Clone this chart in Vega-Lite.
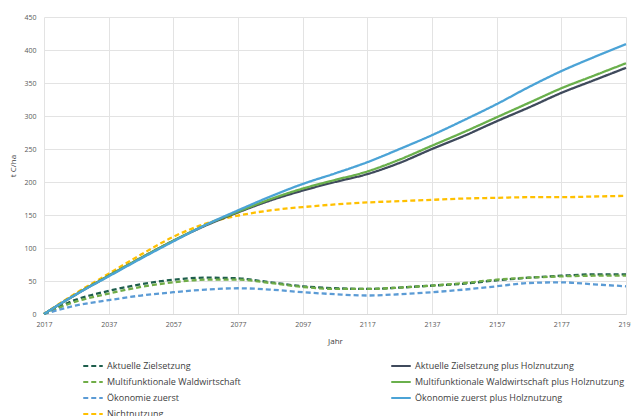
{
  "$schema": "https://vega.github.io/schema/vega-lite/v6.json",
  "autosize": {"type": "none"},
  "padding": {"left": 44, "top": 17, "right": 5, "bottom": 102},
  "width": 582,
  "height": 297,
  "background": "white",
  "config": {
    "font": "Open Sans",
    "view": {"stroke": null},
    "axis": {"labelFontSize": 7, "labelColor": "#595959", "titleColor": "#404040", "titleFontSize": 8, "titleFontWeight": "normal", "gridColor": "#e3e3e3", "domainColor": "#d9d9d9", "tickColor": "#d9d9d9", "ticks": false}
  },
  "datasets": {
    "d": [
      {"year": 2017, "s": "Aktuelle Zielsetzung", "v": 0},
      {"year": 2027, "s": "Aktuelle Zielsetzung", "v": 22},
      {"year": 2037, "s": "Aktuelle Zielsetzung", "v": 35},
      {"year": 2047, "s": "Aktuelle Zielsetzung", "v": 45},
      {"year": 2057, "s": "Aktuelle Zielsetzung", "v": 52},
      {"year": 2067, "s": "Aktuelle Zielsetzung", "v": 55},
      {"year": 2077, "s": "Aktuelle Zielsetzung", "v": 54},
      {"year": 2087, "s": "Aktuelle Zielsetzung", "v": 48},
      {"year": 2097, "s": "Aktuelle Zielsetzung", "v": 42},
      {"year": 2107, "s": "Aktuelle Zielsetzung", "v": 39},
      {"year": 2117, "s": "Aktuelle Zielsetzung", "v": 38},
      {"year": 2127, "s": "Aktuelle Zielsetzung", "v": 40},
      {"year": 2137, "s": "Aktuelle Zielsetzung", "v": 43},
      {"year": 2147, "s": "Aktuelle Zielsetzung", "v": 46},
      {"year": 2157, "s": "Aktuelle Zielsetzung", "v": 51},
      {"year": 2167, "s": "Aktuelle Zielsetzung", "v": 55},
      {"year": 2177, "s": "Aktuelle Zielsetzung", "v": 58},
      {"year": 2187, "s": "Aktuelle Zielsetzung", "v": 60},
      {"year": 2197, "s": "Aktuelle Zielsetzung", "v": 60},

      {"year": 2017, "s": "Multifunktionale Waldwirtschaft", "v": 0},
      {"year": 2027, "s": "Multifunktionale Waldwirtschaft", "v": 19},
      {"year": 2037, "s": "Multifunktionale Waldwirtschaft", "v": 31},
      {"year": 2047, "s": "Multifunktionale Waldwirtschaft", "v": 41},
      {"year": 2057, "s": "Multifunktionale Waldwirtschaft", "v": 48},
      {"year": 2067, "s": "Multifunktionale Waldwirtschaft", "v": 52},
      {"year": 2077, "s": "Multifunktionale Waldwirtschaft", "v": 52},
      {"year": 2087, "s": "Multifunktionale Waldwirtschaft", "v": 47},
      {"year": 2097, "s": "Multifunktionale Waldwirtschaft", "v": 41},
      {"year": 2107, "s": "Multifunktionale Waldwirtschaft", "v": 38},
      {"year": 2117, "s": "Multifunktionale Waldwirtschaft", "v": 38},
      {"year": 2127, "s": "Multifunktionale Waldwirtschaft", "v": 40},
      {"year": 2137, "s": "Multifunktionale Waldwirtschaft", "v": 43},
      {"year": 2147, "s": "Multifunktionale Waldwirtschaft", "v": 47},
      {"year": 2157, "s": "Multifunktionale Waldwirtschaft", "v": 52},
      {"year": 2167, "s": "Multifunktionale Waldwirtschaft", "v": 55},
      {"year": 2177, "s": "Multifunktionale Waldwirtschaft", "v": 57},
      {"year": 2187, "s": "Multifunktionale Waldwirtschaft", "v": 58},
      {"year": 2197, "s": "Multifunktionale Waldwirtschaft", "v": 58},

      {"year": 2017, "s": "Ökonomie zuerst", "v": 0},
      {"year": 2027, "s": "Ökonomie zuerst", "v": 13},
      {"year": 2037, "s": "Ökonomie zuerst", "v": 21},
      {"year": 2047, "s": "Ökonomie zuerst", "v": 28},
      {"year": 2057, "s": "Ökonomie zuerst", "v": 33},
      {"year": 2067, "s": "Ökonomie zuerst", "v": 37},
      {"year": 2077, "s": "Ökonomie zuerst", "v": 39},
      {"year": 2087, "s": "Ökonomie zuerst", "v": 37},
      {"year": 2097, "s": "Ökonomie zuerst", "v": 33},
      {"year": 2107, "s": "Ökonomie zuerst", "v": 30},
      {"year": 2117, "s": "Ökonomie zuerst", "v": 28},
      {"year": 2127, "s": "Ökonomie zuerst", "v": 30},
      {"year": 2137, "s": "Ökonomie zuerst", "v": 33},
      {"year": 2147, "s": "Ökonomie zuerst", "v": 37},
      {"year": 2157, "s": "Ökonomie zuerst", "v": 42},
      {"year": 2167, "s": "Ökonomie zuerst", "v": 47},
      {"year": 2177, "s": "Ökonomie zuerst", "v": 48},
      {"year": 2187, "s": "Ökonomie zuerst", "v": 45},
      {"year": 2197, "s": "Ökonomie zuerst", "v": 42},

      {"year": 2017, "s": "Nichtnutzung", "v": 0},
      {"year": 2027, "s": "Nichtnutzung", "v": 32},
      {"year": 2037, "s": "Nichtnutzung", "v": 61},
      {"year": 2047, "s": "Nichtnutzung", "v": 90},
      {"year": 2057, "s": "Nichtnutzung", "v": 117},
      {"year": 2067, "s": "Nichtnutzung", "v": 137},
      {"year": 2077, "s": "Nichtnutzung", "v": 149},
      {"year": 2087, "s": "Nichtnutzung", "v": 157},
      {"year": 2097, "s": "Nichtnutzung", "v": 162},
      {"year": 2107, "s": "Nichtnutzung", "v": 166},
      {"year": 2117, "s": "Nichtnutzung", "v": 169},
      {"year": 2127, "s": "Nichtnutzung", "v": 171},
      {"year": 2137, "s": "Nichtnutzung", "v": 173},
      {"year": 2147, "s": "Nichtnutzung", "v": 175},
      {"year": 2157, "s": "Nichtnutzung", "v": 176},
      {"year": 2167, "s": "Nichtnutzung", "v": 177},
      {"year": 2177, "s": "Nichtnutzung", "v": 177},
      {"year": 2187, "s": "Nichtnutzung", "v": 178},
      {"year": 2197, "s": "Nichtnutzung", "v": 179},

      {"year": 2017, "s": "Aktuelle Zielsetzung  plus Holznutzung", "v": 0},
      {"year": 2027, "s": "Aktuelle Zielsetzung  plus Holznutzung", "v": 30},
      {"year": 2037, "s": "Aktuelle Zielsetzung  plus Holznutzung", "v": 58},
      {"year": 2047, "s": "Aktuelle Zielsetzung  plus Holznutzung", "v": 85},
      {"year": 2057, "s": "Aktuelle Zielsetzung  plus Holznutzung", "v": 111},
      {"year": 2067, "s": "Aktuelle Zielsetzung  plus Holznutzung", "v": 134},
      {"year": 2077, "s": "Aktuelle Zielsetzung  plus Holznutzung", "v": 154},
      {"year": 2087, "s": "Aktuelle Zielsetzung  plus Holznutzung", "v": 172},
      {"year": 2097, "s": "Aktuelle Zielsetzung  plus Holznutzung", "v": 187},
      {"year": 2107, "s": "Aktuelle Zielsetzung  plus Holznutzung", "v": 200},
      {"year": 2117, "s": "Aktuelle Zielsetzung  plus Holznutzung", "v": 212},
      {"year": 2127, "s": "Aktuelle Zielsetzung  plus Holznutzung", "v": 229},
      {"year": 2137, "s": "Aktuelle Zielsetzung  plus Holznutzung", "v": 250},
      {"year": 2147, "s": "Aktuelle Zielsetzung  plus Holznutzung", "v": 270},
      {"year": 2157, "s": "Aktuelle Zielsetzung  plus Holznutzung", "v": 292},
      {"year": 2167, "s": "Aktuelle Zielsetzung  plus Holznutzung", "v": 313},
      {"year": 2177, "s": "Aktuelle Zielsetzung  plus Holznutzung", "v": 335},
      {"year": 2187, "s": "Aktuelle Zielsetzung  plus Holznutzung", "v": 354},
      {"year": 2197, "s": "Aktuelle Zielsetzung  plus Holznutzung", "v": 373},

      {"year": 2017, "s": "Multifunktionale Waldwirtschaft plus Holznutzung", "v": 0},
      {"year": 2027, "s": "Multifunktionale Waldwirtschaft plus Holznutzung", "v": 30},
      {"year": 2037, "s": "Multifunktionale Waldwirtschaft plus Holznutzung", "v": 58},
      {"year": 2047, "s": "Multifunktionale Waldwirtschaft plus Holznutzung", "v": 85},
      {"year": 2057, "s": "Multifunktionale Waldwirtschaft plus Holznutzung", "v": 111},
      {"year": 2067, "s": "Multifunktionale Waldwirtschaft plus Holznutzung", "v": 135},
      {"year": 2077, "s": "Multifunktionale Waldwirtschaft plus Holznutzung", "v": 155},
      {"year": 2087, "s": "Multifunktionale Waldwirtschaft plus Holznutzung", "v": 174},
      {"year": 2097, "s": "Multifunktionale Waldwirtschaft plus Holznutzung", "v": 190},
      {"year": 2107, "s": "Multifunktionale Waldwirtschaft plus Holznutzung", "v": 203},
      {"year": 2117, "s": "Multifunktionale Waldwirtschaft plus Holznutzung", "v": 216},
      {"year": 2127, "s": "Multifunktionale Waldwirtschaft plus Holznutzung", "v": 234},
      {"year": 2137, "s": "Multifunktionale Waldwirtschaft plus Holznutzung", "v": 255},
      {"year": 2147, "s": "Multifunktionale Waldwirtschaft plus Holznutzung", "v": 276},
      {"year": 2157, "s": "Multifunktionale Waldwirtschaft plus Holznutzung", "v": 298},
      {"year": 2167, "s": "Multifunktionale Waldwirtschaft plus Holznutzung", "v": 320},
      {"year": 2177, "s": "Multifunktionale Waldwirtschaft plus Holznutzung", "v": 342},
      {"year": 2187, "s": "Multifunktionale Waldwirtschaft plus Holznutzung", "v": 361},
      {"year": 2197, "s": "Multifunktionale Waldwirtschaft plus Holznutzung", "v": 380},

      {"year": 2017, "s": "Ökonomie zuerst plus Holznutzung", "v": 0},
      {"year": 2027, "s": "Ökonomie zuerst plus Holznutzung", "v": 30},
      {"year": 2037, "s": "Ökonomie zuerst plus Holznutzung", "v": 57},
      {"year": 2047, "s": "Ökonomie zuerst plus Holznutzung", "v": 84},
      {"year": 2057, "s": "Ökonomie zuerst plus Holznutzung", "v": 110},
      {"year": 2067, "s": "Ökonomie zuerst plus Holznutzung", "v": 135},
      {"year": 2077, "s": "Ökonomie zuerst plus Holznutzung", "v": 157},
      {"year": 2087, "s": "Ökonomie zuerst plus Holznutzung", "v": 178},
      {"year": 2097, "s": "Ökonomie zuerst plus Holznutzung", "v": 197},
      {"year": 2107, "s": "Ökonomie zuerst plus Holznutzung", "v": 213},
      {"year": 2117, "s": "Ökonomie zuerst plus Holznutzung", "v": 230},
      {"year": 2127, "s": "Ökonomie zuerst plus Holznutzung", "v": 250},
      {"year": 2137, "s": "Ökonomie zuerst plus Holznutzung", "v": 271},
      {"year": 2147, "s": "Ökonomie zuerst plus Holznutzung", "v": 294},
      {"year": 2157, "s": "Ökonomie zuerst plus Holznutzung", "v": 318},
      {"year": 2167, "s": "Ökonomie zuerst plus Holznutzung", "v": 344},
      {"year": 2177, "s": "Ökonomie zuerst plus Holznutzung", "v": 368},
      {"year": 2187, "s": "Ökonomie zuerst plus Holznutzung", "v": 389},
      {"year": 2197, "s": "Ökonomie zuerst plus Holznutzung", "v": 409}
    ]
  },
  "data": {"name": "d"},
  "mark": {"type": "line", "interpolate": "monotone", "strokeWidth": 2.3},
  "encoding": {
    "x": {"field": "year", "type": "quantitative", "title": "Jahr",
      "scale": {"domain": [2017, 2197], "nice": false, "zero": false},
      "axis": {"values": [2017, 2037, 2057, 2077, 2097, 2117, 2137, 2157, 2177, 2197], "format": "d", "labelPadding": 6, "titlePadding": 10, "grid": true, "labelOverlap": false, "labelFlush": false}},
    "y": {"field": "v", "type": "quantitative", "title": "t C/ha",
      "scale": {"domain": [0, 450], "nice": false},
      "axis": {"values": [0, 50, 100, 150, 200, 250, 300, 350, 400, 450], "labelPadding": 8, "titlePadding": 6, "domain": false}},
    "color": {"field": "s", "type": "nominal",
      "scale": {
        "domain": ["Aktuelle Zielsetzung", "Multifunktionale Waldwirtschaft", "Ökonomie zuerst", "Nichtnutzung", "Aktuelle Zielsetzung  plus Holznutzung", "Multifunktionale Waldwirtschaft plus Holznutzung", "Ökonomie zuerst plus Holznutzung"],
        "range": ["#1e5e4c", "#70ad47", "#5b9bd5", "#ffc000", "#3f4a5c", "#6ab04c", "#4ba3d6"]
      },
      "legend": {"title": null, "orient": "none", "legendX": 38, "legendY": 338, "columns": 2, "columnPadding": 145, "rowPadding": 0, "labelFontSize": 9, "labelOffset": 3, "labelColor": "#404040", "symbolType": "stroke", "symbolSize": 380, "symbolStrokeWidth": 2.2, "labelLimit": 300, "gridAlign": "each"}
    },
    "strokeDash": {"field": "s", "type": "nominal",
      "scale": {
        "domain": ["Aktuelle Zielsetzung", "Multifunktionale Waldwirtschaft", "Ökonomie zuerst", "Nichtnutzung", "Aktuelle Zielsetzung  plus Holznutzung", "Multifunktionale Waldwirtschaft plus Holznutzung", "Ökonomie zuerst plus Holznutzung"],
        "range": [[5, 3], [5, 3], [5, 3], [5, 3], [1, 0], [1, 0], [1, 0]]
      },
      "legend": {"title": null, "orient": "none", "legendX": 38, "legendY": 338, "columns": 2, "columnPadding": 145, "rowPadding": 0, "labelFontSize": 9, "labelOffset": 3, "labelColor": "#404040", "symbolType": "stroke", "symbolSize": 380, "symbolStrokeWidth": 2.2, "labelLimit": 300, "gridAlign": "each"}
    }
  }
}
